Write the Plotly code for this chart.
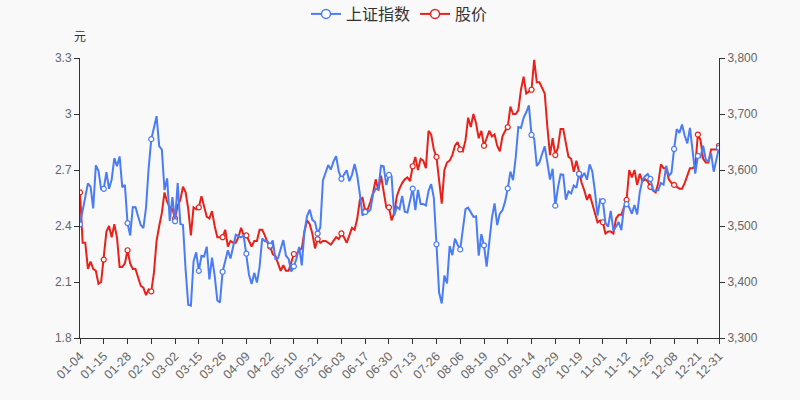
import plotly.graph_objects as go

dates = [
"01-04","01-05","01-06","01-07","01-08","01-11","01-12","01-13","01-14","01-15","01-18","01-19","01-20","01-21","01-22","01-25","01-26","01-27","01-28","01-29",
"02-01","02-02","02-03","02-04","02-05","02-08","02-09","02-10","02-18","02-19","02-22","02-23","02-24","02-25","02-26",
"03-01","03-02","03-03","03-04","03-05","03-08","03-09","03-10","03-11","03-12","03-15","03-16","03-17","03-18","03-19","03-22","03-23","03-24","03-25","03-26","03-29","03-30","03-31",
"04-01","04-02","04-06","04-07","04-08","04-09","04-12","04-13","04-14","04-15","04-16","04-19","04-20","04-21","04-22","04-23","04-26","04-27","04-28","04-29","04-30",
"05-06","05-07","05-10","05-11","05-12","05-13","05-14","05-17","05-18","05-19","05-20","05-21","05-24","05-25","05-26","05-27","05-28","05-31",
"06-01","06-02","06-03","06-04","06-07","06-08","06-09","06-10","06-11","06-15","06-16","06-17","06-18","06-21","06-22","06-23","06-24","06-25","06-28","06-29","06-30",
"07-01","07-02","07-05","07-06","07-07","07-08","07-09","07-12","07-13","07-14","07-15","07-16","07-19","07-20","07-21","07-22","07-23","07-26","07-27","07-28","07-29","07-30",
"08-02","08-03","08-04","08-05","08-06","08-09","08-10","08-11","08-12","08-13","08-16","08-17","08-18","08-19","08-20","08-23","08-24","08-25","08-26","08-27","08-30","08-31",
"09-01","09-02","09-03","09-06","09-07","09-08","09-09","09-10","09-13","09-14","09-15","09-16","09-17","09-22","09-23","09-24","09-27","09-28","09-29","09-30",
"10-08","10-11","10-12","10-13","10-14","10-15","10-18","10-19","10-20","10-21","10-22","10-25","10-26","10-27","10-28","10-29",
"11-01","11-02","11-03","11-04","11-05","11-08","11-09","11-10","11-11","11-12","11-15","11-16","11-17","11-18","11-19","11-22","11-23","11-24","11-25","11-26","11-29","11-30",
"12-01","12-02","12-03","12-06","12-07","12-08","12-09","12-10","12-13","12-14","12-15","12-16","12-17","12-20","12-21","12-22","12-23","12-24","12-27","12-28","12-29","12-30","12-31",
]

index_values = [
3502.96,3528.68,3550.88,3576.20,3570.11,3531.50,3608.34,3598.65,3565.90,3566.38,3596.22,3566.38,3583.09,3621.26,3606.75,3624.24,3569.43,3573.34,3505.18,3483.07,
3533.68,3533.88,3517.31,3501.86,3496.33,3532.44,3603.49,3655.09,3675.36,3696.17,3642.44,3636.36,3564.08,3585.05,3509.08,
3551.40,3508.59,3576.90,3503.49,3501.99,3421.41,3359.29,3357.74,3436.83,3453.08,3419.95,3446.73,3445.55,3463.07,3404.66,3443.44,3411.51,3367.06,3363.59,3418.33,3435.30,3456.68,3441.91,
3466.33,3484.39,3482.48,3479.63,3482.56,3450.68,3412.95,3396.47,3416.28,3398.99,3426.62,3477.55,3472.94,3472.93,3465.11,3474.17,3441.17,3442.61,3457.07,3474.90,3446.86,
3441.28,3418.87,3427.99,3441.85,3462.75,3429.54,3490.38,3517.62,3529.01,3510.96,3506.94,3486.56,3497.28,3581.34,3593.36,3608.85,3600.78,3615.48,
3624.71,3597.14,3584.22,3591.84,3599.54,3580.11,3591.40,3610.86,3589.75,3556.56,3518.33,3525.10,3525.10,3529.18,3557.41,3566.65,3566.22,3607.56,3606.37,3573.18,3591.20,
3588.78,3518.76,3534.32,3530.26,3553.72,3525.50,3524.09,3547.84,3566.59,3528.50,3564.59,3539.30,3539.12,3536.79,3562.70,3574.73,3550.40,3467.44,3381.18,3361.59,3411.72,3397.36,
3464.29,3447.99,3477.22,3466.56,3458.23,3494.63,3529.93,3532.62,3524.74,3516.30,3517.34,3446.98,3485.29,3465.55,3427.33,3477.13,3514.47,3540.38,3501.66,3522.16,3528.15,3543.94,
3567.10,3597.04,3581.73,3621.86,3676.59,3675.19,3693.13,3703.11,3715.37,3662.60,3656.22,3607.09,3613.97,3628.49,3642.22,3613.07,3582.83,3602.22,3536.29,3568.17,
3592.17,3591.71,3546.94,3561.76,3558.28,3572.37,3568.14,3593.15,3587.00,3594.78,3582.60,3609.86,3597.64,3562.31,3518.42,3547.34,
3544.48,3505.63,3498.54,3526.87,3491.57,3498.63,3507.00,3492.46,3532.79,3539.10,3533.30,3521.79,3537.37,3520.71,3560.37,3582.08,3589.09,3592.70,3584.18,3564.09,3562.70,3563.89,
3576.89,3573.84,3607.43,3589.31,3595.09,3637.57,3673.04,3666.35,3681.08,3661.53,3647.63,3675.02,3632.36,3593.60,3625.13,3622.62,3643.34,3618.05,3615.97,3630.11,3597.00,3619.19,3639.78,
]

price_values = [
2.58,2.31,2.31,2.17,2.21,2.17,2.16,2.09,2.10,2.22,2.37,2.40,2.34,2.41,2.34,2.18,2.18,2.20,2.27,2.20,
2.17,2.17,2.12,2.08,2.07,2.03,2.06,2.05,2.15,2.32,2.40,2.47,2.58,2.53,2.50,
2.49,2.44,2.51,2.54,2.61,2.58,2.49,2.35,2.50,2.49,2.50,2.56,2.51,2.45,2.44,2.48,2.40,2.34,2.34,2.34,2.38,2.29,2.32,
2.31,2.31,2.34,2.39,2.35,2.35,2.32,2.29,2.32,2.32,2.38,2.38,2.35,2.31,2.29,2.25,2.24,2.20,2.16,2.19,2.16,
2.16,2.21,2.25,2.25,2.27,2.28,2.37,2.43,2.41,2.36,2.28,2.33,2.31,2.32,2.32,2.31,2.30,2.32,
2.34,2.33,2.36,2.34,2.31,2.35,2.39,2.38,2.44,2.54,2.55,2.48,2.49,2.53,2.58,2.65,2.59,2.67,2.59,2.50,2.50,
2.43,2.47,2.56,2.60,2.63,2.65,2.66,2.64,2.72,2.77,2.70,2.76,2.75,2.71,2.91,2.89,2.81,2.77,2.65,2.52,2.70,2.74,
2.75,2.78,2.83,2.85,2.81,2.80,2.86,2.98,2.93,3.00,2.95,2.87,2.91,2.83,2.87,2.91,2.88,2.89,2.83,2.80,2.88,2.91,
2.93,3.04,3.00,3.00,3.02,3.13,3.20,3.11,3.12,3.13,3.29,3.17,3.17,3.14,3.11,2.93,2.78,2.87,2.78,2.82,
2.92,2.92,2.84,2.77,2.76,2.69,2.75,2.68,2.63,2.59,2.54,2.57,2.52,2.47,2.42,2.43,
2.42,2.36,2.37,2.37,2.36,2.44,2.46,2.46,2.50,2.54,2.70,2.66,2.70,2.62,2.68,2.64,2.65,2.64,2.61,2.59,2.58,2.63,
2.73,2.71,2.71,2.65,2.63,2.62,2.61,2.60,2.60,2.63,2.67,2.71,2.71,2.72,2.89,2.86,2.76,2.74,2.74,2.81,2.81,2.81,2.83,
]

left_ticks = [1.8, 2.1, 2.4, 2.7, 3.0, 3.3]
left_tick_text = ["1.8", "2.1", "2.4", "2.7", "3", "3.3"]
right_ticks = [3300, 3400, 3500, 3600, 3700, 3800]
right_tick_text = ["3,300", "3,400", "3,500", "3,600", "3,700", "3,800"]

BLUE = "#4a7cf6"
RED = "#e8211a"
BG = "#f9f9f9"
AXIS = "#333333"
FONT = "Liberation Sans, Noto Sans CJK SC, sans-serif"
CJK = "Noto Sans CJK SC, sans-serif"

n = len(dates)
label_idx = list(range(0, n, 9))
if label_idx[-1] != n - 1:
    label_idx.append(n - 1)
label_dates = [dates[i] for i in label_idx]

fig = go.Figure()

fig.add_trace(go.Scatter(x=dates, y=index_values, mode="lines", yaxis="y2",
                         line=dict(color=BLUE, width=2), showlegend=False, hoverinfo="skip"))
fig.add_trace(go.Scatter(x=label_dates, y=[index_values[i] for i in label_idx], mode="markers", yaxis="y2",
                         marker=dict(symbol="circle", size=5, color="white", line=dict(color=BLUE, width=1.2)),
                         showlegend=False, hoverinfo="skip"))
fig.add_trace(go.Scatter(x=dates, y=price_values, mode="lines", yaxis="y",
                         line=dict(color=RED, width=2), showlegend=False, hoverinfo="skip"))
fig.add_trace(go.Scatter(x=label_dates, y=[price_values[i] for i in label_idx], mode="markers", yaxis="y",
                         marker=dict(symbol="circle", size=5, color="white", line=dict(color=RED, width=1.2)),
                         showlegend=False, hoverinfo="skip"))

fig.add_trace(go.Scatter(x=[None], y=[None], mode="lines+markers", name="上证指数",
                         line=dict(color=BLUE, width=2),
                         marker=dict(symbol="circle", size=9, color="white", line=dict(color=BLUE, width=1.5))))
fig.add_trace(go.Scatter(x=[None], y=[None], mode="lines+markers", name="股价",
                         line=dict(color=RED, width=2),
                         marker=dict(symbol="circle", size=9, color="white", line=dict(color=RED, width=1.5))))

fig.update_layout(
    width=800, height=400,
    margin=dict(l=80, r=81, t=58, b=62),
    paper_bgcolor=BG, plot_bgcolor=BG,
    font=dict(family=FONT, size=12, color="#666666"),
    showlegend=True,
    hovermode=False,
    legend=dict(orientation="h", x=0.5, xanchor="center", y=0.965, yref="container", yanchor="middle",
                font=dict(family=CJK, size=16, color="#333333"), itemwidth=30,
                bgcolor="rgba(0,0,0,0)"),
    xaxis=dict(type="category", range=[0, n - 1], tickmode="array", tickvals=label_dates,
               ticktext=label_dates, tickangle=-45, showgrid=False, zeroline=False, automargin=False,
               showline=True, linecolor=AXIS, linewidth=1, ticks="outside", ticklen=5,
               tickcolor=AXIS, tickfont=dict(size=12.5, color="#666666")),
    yaxis=dict(range=[1.8, 3.3], tickmode="array", tickvals=left_ticks, ticktext=left_tick_text,
               showgrid=False, zeroline=False, showline=True, linecolor=AXIS, linewidth=1, automargin=False,
               ticks="outside", ticklen=5, tickcolor=AXIS, tickfont=dict(size=12, color="#666666")),
    yaxis2=dict(range=[3300, 3800], tickmode="array", tickvals=right_ticks, ticktext=right_tick_text,
                overlaying="y", side="right", showgrid=False, zeroline=False, showline=True, automargin=False,
                linecolor=AXIS, linewidth=1, ticks="outside", ticklen=5, tickcolor=AXIS,
                tickfont=dict(size=12, color="#666666")),
    annotations=[dict(text="元", xref="paper", yref="paper", x=0, y=1, xanchor="center", yanchor="bottom",
                      yshift=12, showarrow=False, font=dict(family=CJK, size=12, color="#333333"))],
)

fig.write_html("out.html",
               config={"displayModeBar": False},
               post_script="document.body.style.margin='0';document.body.style.background='%s';" % BG)
